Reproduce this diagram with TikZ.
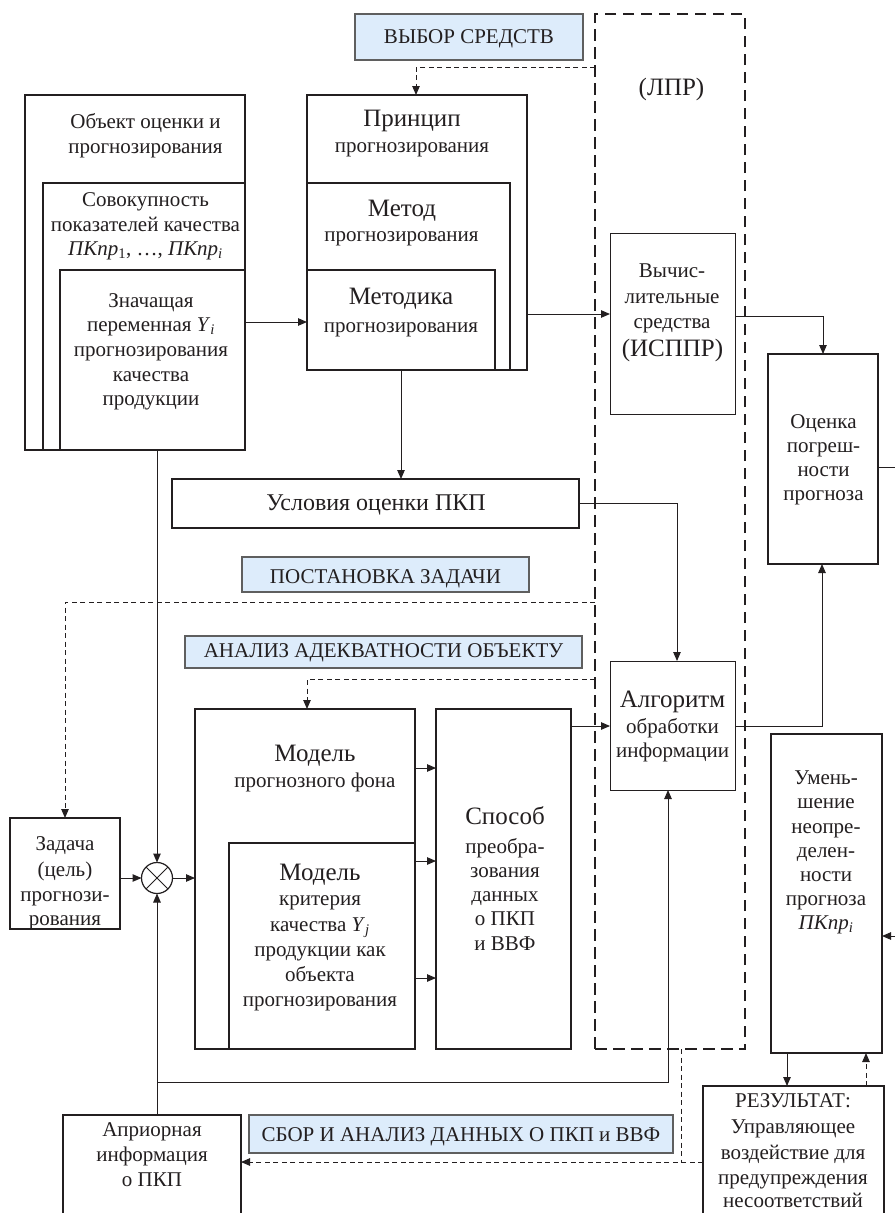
\documentclass[tikz,border=0pt]{standalone}
\usepackage{fontspec}
\setmainfont{Liberation Serif}
\usetikzlibrary{arrows.meta}
\definecolor{lblue}{RGB}{221,236,251}
\definecolor{ink}{RGB}{35,31,32}
\definecolor{lblgray}{RGB}{95,95,95}
\newcommand\fs{\fontsize{21}{24}\selectfont}
\newcommand\fm{\fontsize{24}{28}\selectfont}
\newcommand\fb{\fontsize{25}{28}\selectfont}
\newcommand\Bx[6]{\node[#1, minimum width={(#5)-(#3)}, minimum height={(#6)-(#4)}] (#2) at (#3,#4) {};}
\newcommand\Tx[5]{\node[#1] (#2) at (#3,#4) {#5};}
\newcommand\PK{\textit{ПКпр}}
\tikzset{
  bx/.style={draw=ink, line width=1.4pt, inner sep=0pt, outer sep=0pt, anchor=north west},
  thinbx/.style={bx, line width=1pt},
  lbl/.style={bx, draw=lblgray, line width=1.1pt, fill=lblue},
  lprbox/.style={bx, line width=1.7pt, dash pattern=on 11.5pt off 6.5pt},
  con/.style={draw=ink, line width=1pt, -{Triangle[length=9pt,width=7.5pt]}},
  dcon/.style={con, dash pattern=on 5pt off 3.5pt},
  plain/.style={draw=ink, line width=1pt},
  tx/.style={anchor=base, inner sep=0pt, font=\fs, text=ink},
  tm/.style={tx, font=\fm},
  tb/.style={tx, font=\fb},
}
\begin{document}
\begin{tikzpicture}[x=1pt,y=-1pt]
\clip (0,0) rectangle (895,1213);
\fill[white] (0,0) rectangle (895,1213);
% ---------- boxes ----------
\Bx{lprbox}{lpr}{595}{14}{745}{1049}
\Bx{bx}{obj}{25}{95}{245}{450}
\Bx{bx}{sov}{43}{183}{245}{450}
\Bx{bx}{zn}{60}{270}{245}{450}
\Bx{bx}{prin}{307}{95}{527}{370}
\Bx{bx}{met}{307}{183}{510}{370}
\Bx{bx}{mtk}{307}{270}{495}{370}
\Bx{lbl}{vyb}{355}{14}{583}{60}
\Bx{thinbx}{vych}{610}{233}{735}{414}
\Bx{bx}{ots}{768}{354}{878}{564}
\Bx{bx}{usl}{172}{479}{579}{528}
\Bx{lbl}{post}{242}{557}{529}{592}
\Bx{lbl}{anal}{185}{636}{582}{668}
\Bx{thinbx}{alg}{610}{661}{735}{790}
\Bx{bx}{mod}{195}{709}{415}{1049}
\Bx{bx}{modk}{229}{843}{415}{1049}
\Bx{bx}{sposob}{436}{709}{571}{1049}
\Bx{bx}{umen}{771}{734}{882}{1053}
\Bx{bx}{zad}{10}{818}{120}{929}
\Bx{bx}{apr}{63}{1115}{241}{1230}
\Bx{lbl}{sbor}{249}{1115}{673}{1153}
\Bx{bx}{rez}{703}{1086}{884}{1230}
\node[draw=ink, line width=1.2pt, circle, minimum size=31pt, inner sep=0pt, outer sep=0pt] (circ) at (157,878) {};
\draw[plain] (circ.north east) -- (circ.south west) (circ.north west) -- (circ.south east);
% ---------- helper coordinates ----------
\coordinate (j1) at (416,67);
\coordinate (h322) at (0,322);
\coordinate (h314) at (0,314);
\coordinate (h316) at (0,316);
\coordinate (v677) at (677,0);
\coordinate (h602) at (0,602);
\coordinate (h679) at (0,679);
\coordinate (v307) at (307,0);
\coordinate (h768) at (0,768);
\coordinate (h861) at (0,861);
\coordinate (h978) at (0,978);
\coordinate (h726) at (0,726);
\coordinate (v822) at (822,0);
\coordinate (edgeA) at (895,467);
\coordinate (edgeB) at (895,936);
\coordinate (v787) at (787,0);
\coordinate (v866) at (866,0);
\coordinate (h1162) at (0,1162);
\coordinate (v681) at (681,0);
\coordinate (h1082) at (0,1082);
\coordinate (v668) at (668,0);
% ---------- connectors ----------
\draw[dcon] (lpr.west |- j1) -- (j1) -- (j1 |- prin.north);
\draw[con] (zn.east |- h322) -- (prin.west |- h322);
\draw[con] (prin.east |- h314) -- (vych.west |- h314);
\draw[con] (vych.east |- h316) -| (ots.north);
\draw[con] (mtk.south) -- (usl.north -| mtk.south);
\draw[con] (usl.east) -| (alg.north -| v677);
\draw[dcon] (lpr.west |- h602) -| (zad.north);
\draw[dcon] (lpr.west |- h679) -| (mod.north -| v307);
\draw[con] (mod.east |- h768) -- (sposob.west |- h768);
\draw[con] (mod.east |- h861) -- (sposob.west |- h861);
\draw[con] (mod.east |- h978) -- (sposob.west |- h978);
\draw[con] (sposob.east |- h726) -- (alg.west |- h726);
\draw[con] (alg.east |- h726) -| (ots.south -| v822);
\draw[plain] (ots.east |- edgeA) -- (edgeA);
\draw[con] (edgeB) -- (umen.east |- edgeB);
\draw[con] (umen.south -| v787) -- (rez.north -| v787);
\draw[dcon] (rez.north -| v866) -- (umen.south -| v866);
\draw[dcon] (rez.west |- h1162) -- (apr.east |- h1162);
\draw[plain, dash pattern=on 5pt off 3.5pt] (lpr.south -| v681) -- (v681 |- h1162);
\draw[con] (circ.north |- zn.south) -- (circ.north);
\draw[con] (zad.east |- circ) -- (circ.west);
\draw[con] (circ.east) -- (mod.west |- circ);
\draw[con] (apr.north -| circ) -- (circ.south);
\draw[con] (circ |- h1082) -| (alg.south -| v668);
% ---------- texts ----------
\Tx{tx}{t1}{145.5}{128}{Объект оценки и}
\Tx{tx}{t2}{145.5}{153}{прогнозирования}
\Tx{tx}{t3}{145.5}{206}{Совокупность}
\Tx{tx}{t4}{145.5}{231}{показателей качества}
\Tx{tx}{t5}{145.5}{255}{\PK\textsubscript{1}, …, \PK\textsubscript{\textit{i}}}
\Tx{tx}{t6}{151}{307}{Значащая}
\Tx{tx}{t7}{151}{331}{переменная \textit{Y}\textsubscript{\textit{i}}}
\Tx{tx}{t8}{151}{356}{прогнозирования}
\Tx{tx}{t9}{151}{381}{качества}
\Tx{tx}{t10}{151}{405}{продукции}
\Tx{tb}{t11}{412}{126}{Принцип}
\Tx{tx}{t12}{412}{152}{прогнозирования}
\Tx{tb}{t13}{402}{216}{Метод}
\Tx{tx}{t14}{401.5}{241}{прогнозирования}
\Tx{tb}{t15}{401}{304}{Методика}
\Tx{tx}{t16}{401}{332}{прогнозирования}
\Tx{tx}{t17}{469}{43}{ВЫБОР СРЕДСТВ}
\Tx{tb}{t18}{671.5}{95}{(ЛПР)}
\Tx{tx}{t19}{672}{277}{Вычис-}
\Tx{tx}{t20}{672}{303}{лительные}
\Tx{tx}{t21}{672}{328}{средства}
\Tx{tb}{t22}{672.5}{356}{(ИСППР)}
\Tx{tx}{t23}{823.5}{428}{Оценка}
\Tx{tx}{t24}{823.5}{452}{погреш-}
\Tx{tx}{t25}{823.5}{476}{ности}
\Tx{tx}{t26}{823.5}{500}{прогноза}
\Tx{tm}{t27}{376}{510}{Условия оценки ПКП}
\Tx{tx}{t28}{385.5}{583}{ПОСТАНОВКА ЗАДАЧИ}
\Tx{tx}{t29}{383.5}{657}{АНАЛИЗ АДЕКВАТНОСТИ ОБЪЕКТУ}
\Tx{tb}{t30}{315}{761}{Модель}
\Tx{tx}{t31}{315}{787}{прогнозного фона}
\Tx{tb}{t32}{320}{880}{Модель}
\Tx{tx}{t33}{320}{905}{критерия}
\Tx{tx}{t34}{320}{931}{качества \textit{Y}\textsubscript{\textit{j}}}
\Tx{tx}{t35}{320}{956}{продукции как}
\Tx{tx}{t36}{320}{981}{объекта}
\Tx{tx}{t37}{320}{1006}{прогнозирования}
\Tx{tb}{t38}{505}{824}{Способ}
\Tx{tx}{t39}{505}{853}{преобра-}
\Tx{tx}{t40}{505}{877}{зования}
\Tx{tx}{t41}{505}{901}{данных}
\Tx{tx}{t42}{505}{925}{о ПКП}
\Tx{tx}{t43}{505}{950}{и ВВФ}
\Tx{tb}{t44}{672.5}{707}{Алгоритм}
\Tx{tx}{t45}{672.5}{733}{обработки}
\Tx{tx}{t46}{672.5}{757}{информации}
\Tx{tx}{t47}{826}{784}{Умень-}
\Tx{tx}{t48}{826}{808}{шение}
\Tx{tx}{t49}{826}{833}{неопре-}
\Tx{tx}{t50}{826}{857}{делен-}
\Tx{tx}{t51}{826}{881}{ности}
\Tx{tx}{t52}{826}{905}{прогноза}
\Tx{tx}{t53}{826}{929}{\PK\textsubscript{\textit{i}}}
\Tx{tx}{t54}{65}{850}{Задача}
\Tx{tx}{t55}{65}{876}{(цель)}
\Tx{tx}{t56}{65}{901}{прогнози-}
\Tx{tx}{t57}{65}{925}{рования}
\Tx{tx}{t58}{152}{1136}{Априорная}
\Tx{tx}{t59}{152}{1161}{информация}
\Tx{tx}{t60}{152}{1186}{о ПКП}
\Tx{tx}{t61}{461}{1141}{СБОР И АНАЛИЗ ДАННЫХ О ПКП и ВВФ}
\Tx{tx}{t62}{793}{1107}{РЕЗУЛЬТАТ:}
\Tx{tx}{t63}{793}{1133}{Управляющее}
\Tx{tx}{t64}{793}{1159}{воздействие для}
\Tx{tx}{t65}{793}{1184}{предупреждения}
\Tx{tx}{t66}{793}{1207}{несоответствий}
\end{tikzpicture}
\end{document}
